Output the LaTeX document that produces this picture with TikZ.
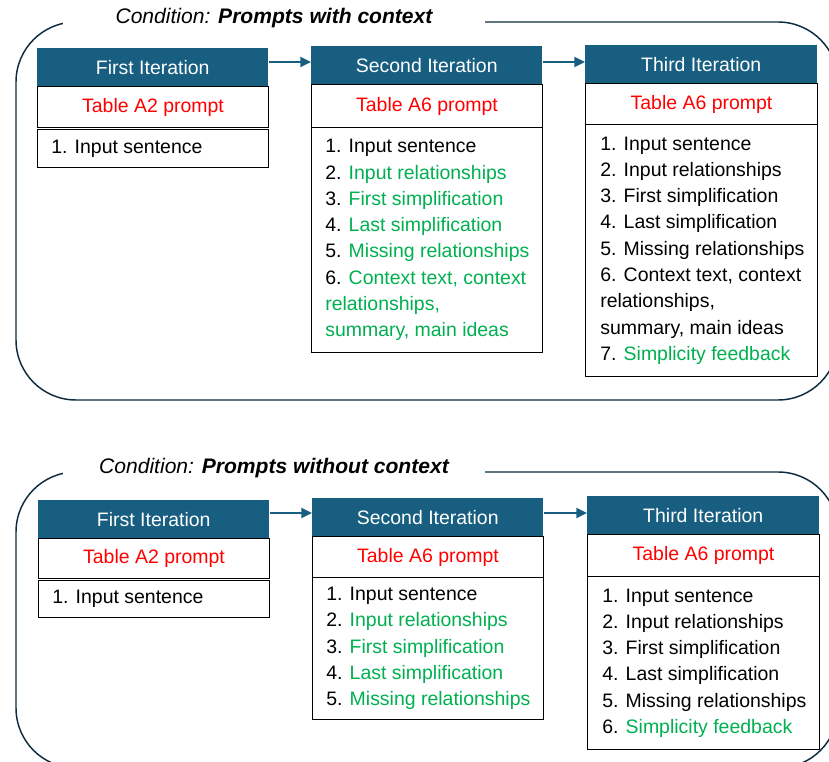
\documentclass[tikz,border=0pt]{standalone}
\usepackage{fontspec}
\setmainfont{Liberation Sans}
\usetikzlibrary{arrows.meta}
\definecolor{iterblue}{HTML}{175E80}
\definecolor{framenavy}{HTML}{0E2C3F}
\definecolor{promptred}{HTML}{FF0000}
\definecolor{newgreen}{HTML}{00B050}
\newcommand\gr[1]{\textcolor{newgreen}{#1}}

\begin{document}
\begin{tikzpicture}[x=0.75pt,y=-0.75pt,
  every node/.style={font=\fontsize{14.6pt}{19.7pt}\selectfont, inner sep=0pt},
  frame/.style={draw=framenavy, line width=1.1pt, rounded corners=45pt},
  condlabel/.style={fill=white, minimum width=316.5pt, minimum height=16.5pt,
    font=\fontsize{15.8pt}{19pt}\selectfont},
  head/.style={fill=iterblue, text=white, anchor=north west, minimum width=173.25pt},
  promptbox/.style={draw=black, line width=0.8pt, text=promptred, anchor=north west, minimum width=173.25pt},
  itembox/.style={draw=black, line width=0.8pt, anchor=north west, minimum width=173.25pt},
  itemtext/.style={anchor=west, align=left, xshift=10.5pt},
  flow/.style={draw=iterblue, line width=1.5pt, -{Triangle[length=8pt,width=7.5pt]}},
]
\clip (0,0) rectangle (829,762);

% ---------------- condition: prompts with context ----------------
\draw[frame] (16,22) rectangle (838,400);
\node[condlabel] (c1) at (274,18) {\itshape Condition: \bfseries Prompts with context};

\node[head, minimum height=28.5pt] (a1h) at (37,48) {First Iteration};
\node[promptbox, minimum height=30.75pt] (a1p) at (37,86) {Table A2 prompt};
\node[itembox, minimum height=28.5pt] (a1i) at (37,129) {};
\node[itemtext] (a1t) at (a1i.west) {1. Input sentence};

\node[head, minimum height=28.5pt] (a2h) at (311,46) {Second Iteration};
\node[promptbox, minimum height=32.25pt] (a2p) at (311,84) {Table A6 prompt};
\node[itembox, minimum height=168.75pt] (a2i) at (311,127) {};
\node[itemtext] (a2t) at (a2i.west) {1. Input sentence\\
  2. \gr{Input relationships}\\
  3. \gr{First simplification}\\
  4. \gr{Last simplification}\\
  5. \gr{Missing relationships}\\
  6. \gr{Context text, context}\\
  \gr{relationships,}\\
  \gr{summary, main ideas}};

\node[head, minimum height=28.5pt, minimum width=174pt] (a3h) at (585,45) {Third Iteration};
\node[promptbox, minimum height=30.75pt, minimum width=174pt] (a3p) at (585,83) {Table A6 prompt};
\node[itembox, minimum height=189pt, minimum width=174pt] (a3i) at (585,124) {};
\node[itemtext, xshift=0.75pt] (a3t) at (a3i.west) {1. Input sentence\\
  2. Input relationships\\
  3. First simplification\\
  4. Last simplification\\
  5. Missing relationships\\
  6. Context text, context\\
  relationships,\\
  summary, main ideas\\
  7. \gr{Simplicity feedback}};

\coordinate (a12) at ([yshift=-10.5pt]a1h.north east);
\draw[flow] (a12) -- (a12 -| a2h.west);
\coordinate (a23) at ([yshift=-12pt]a2h.north east);
\draw[flow] (a23) -- (a23 -| a3h.west);

% ---------------- condition: prompts without context ----------------
\draw[frame] (16,472) rectangle (838,768);
\node[condlabel] (c2) at (274,468) {\itshape Condition: \bfseries Prompts without context};

\node[head, minimum height=28.5pt] (b1h) at (38,500) {First Iteration};
\node[promptbox, minimum height=30pt] (b1p) at (38,538) {Table A2 prompt};
\node[itembox, minimum height=27.75pt] (b1i) at (38,580) {};
\node[itemtext] (b1t) at (b1i.west) {1. Input sentence};

\node[head, minimum height=28.5pt] (b2h) at (312,498) {Second Iteration};
\node[promptbox, minimum height=30.75pt] (b2p) at (312,536) {Table A6 prompt};
\node[itembox, minimum height=106.5pt] (b2i) at (312,577) {};
\node[itemtext] (b2t) at (b2i.west) {1. Input sentence\\
  2. \gr{Input relationships}\\
  3. \gr{First simplification}\\
  4. \gr{Last simplification}\\
  5. \gr{Missing relationships}};

\node[head, minimum height=28.5pt, minimum width=174pt] (b3h) at (587,496) {Third Iteration};
\node[promptbox, minimum height=31.5pt, minimum width=174pt] (b3p) at (587,534) {Table A6 prompt};
\node[itembox, minimum height=129.75pt, minimum width=174pt] (b3i) at (587,576) {};
\node[itemtext, xshift=0.75pt] (b3t) at (b3i.west) {1. Input sentence\\
  2. Input relationships\\
  3. First simplification\\
  4. Last simplification\\
  5. Missing relationships\\
  6. \gr{Simplicity feedback}};

\coordinate (b12) at ([yshift=-9.75pt]b1h.north east);
\draw[flow] (b12) -- (b12 -| b2h.west);
\coordinate (b23) at ([yshift=-11.25pt]b2h.north east);
\draw[flow] (b23) -- (b23 -| b3h.west);
\end{tikzpicture}
\end{document}
